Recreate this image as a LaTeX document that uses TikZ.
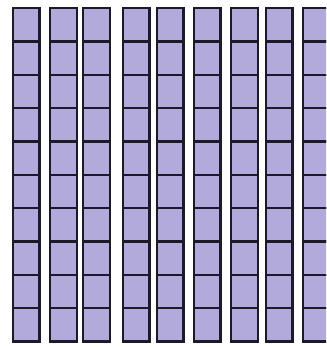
\documentclass[tikz,border=0pt]{standalone}
\usepackage{tikz}
\definecolor{Rod}{HTML}{B1AADB}
\definecolor{Edge}{HTML}{1C1A28}

\begin{document}
\begin{tikzpicture}[x=0.75pt,y=-0.75pt]
        \useasboundingbox (0,0) rectangle (326,347);
        \clip (0,0) rectangle (326,347);
        \foreach \x in {12.7,50,83.3,122.7,156.7,193.7,231.3,265.7,303}
          \foreach \r in {0,...,9}
            \filldraw[fill=Rod,draw=Edge,line width=1.7pt] (\x,8.3+33.33*\r) rectangle ++(26.7,33.33);
      \end{tikzpicture}
\end{document}
